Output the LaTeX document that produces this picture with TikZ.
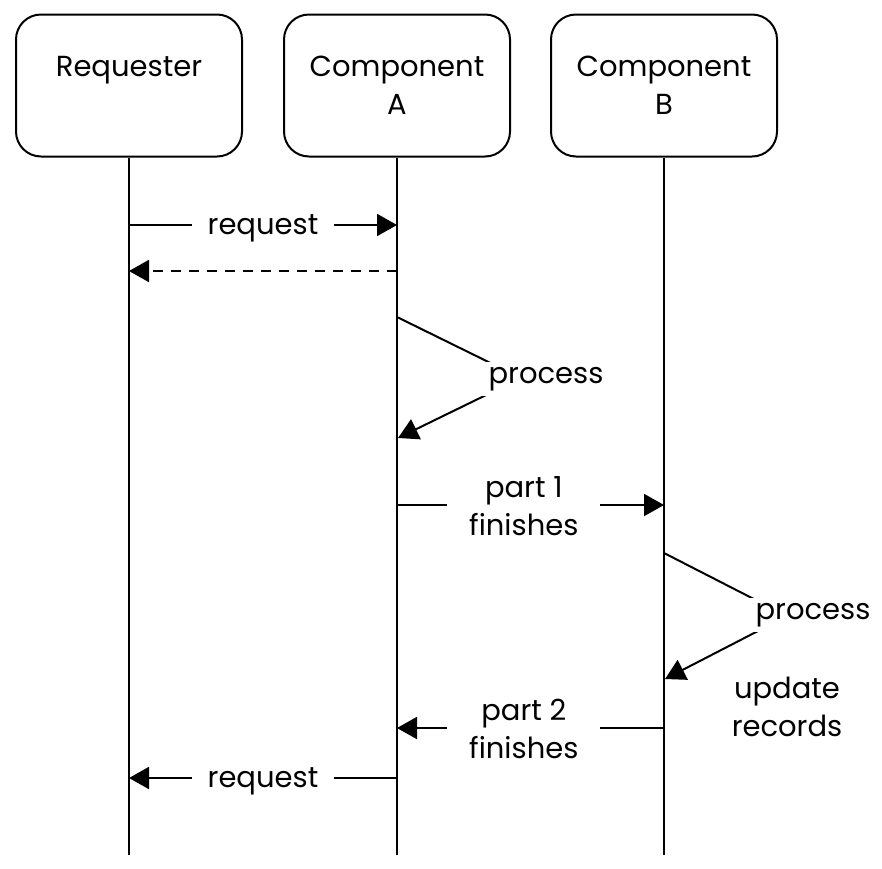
\documentclass[tikz,border=0pt]{standalone}
\usepackage{fontspec}
\setmainfont{Poppins}
\usetikzlibrary{arrows.meta}
\begin{document}
\begin{tikzpicture}[x=1pt,y=-1pt,
  every node/.style={font=\fontsize{29}{38}\selectfont},
  box/.style={draw,line width=2pt,rounded corners=25pt,minimum width=226pt,minimum height=142pt,align=center,inner sep=0pt},
  life/.style={line width=2pt},
  msg/.style={line width=2pt,-{Triangle[length=20pt,width=22pt]}},
  dmsg/.style={msg,dash pattern=on 10pt off 8pt},
  lab/.style={fill=white,inner xsep=16pt,inner ysep=4pt,align=center,yshift=-3pt},
  lab2/.style={fill=white,inner xsep=22pt,inner ysep=4pt,align=center,yshift=-1pt},
  plab/.style={fill=white,inner xsep=9pt,inner ysep=5pt}]
\useasboundingbox (0,0) rectangle (882,868);
% participants
\node[box] (R) at (129,85.5) {Requester\\\phantom{A}};
\node[box] (A) at (397,85.5) {Component\\A};
\node[box] (B) at (664,85.5) {Component\\B};
\coordinate (Rend) at (129,855);
\coordinate (Aend) at (397,855);
\coordinate (Bend) at (664,855);
\draw[life] (R.south) -- (Rend);
\draw[life] (A.south) -- (Aend);
\draw[life] (B.south) -- (Bend);
% message 1
\coordinate (r1) at (129,225);
\coordinate (a1) at (397,225);
\draw[msg] (r1) -- node[lab] (m1) {request} (a1);
% reply
\coordinate (a2) at (397,271);
\coordinate (r2) at (129,271);
\draw[dmsg] (a2) -- (r2);
% self process on A
\coordinate (a3) at (397,317);
\coordinate (v1) at (521,378);
\coordinate (a4) at (398,438);
\draw[life] (a3) -- (v1);
\draw[msg] (v1) -- (a4);
\node[plab] (p1) at (546,379) {process};
% part 1 finishes
\coordinate (a5) at (397,505);
\coordinate (b5) at (664,505);
\draw[msg] (a5) -- node[lab2,pos=0.475] (m3) {part 1\\finishes} (b5);
% self process on B
\coordinate (b6) at (664,553);
\coordinate (v2) at (787,616);
\coordinate (b7) at (665,679);
\draw[life] (b6) -- (v2);
\draw[msg] (v2) -- (b7);
\node[plab] (p2) at (813,615) {process};
\node[align=center] (u) at (787,707) {update\\records};
% part 2 finishes
\coordinate (b8) at (664,728);
\coordinate (a8) at (397,728);
\draw[msg] (b8) -- node[lab2,pos=0.525] (m4) {part 2\\finishes} (a8);
% request back
\coordinate (a9) at (397,778);
\coordinate (r9) at (129,778);
\draw[msg] (a9) -- node[lab] (m5) {request} (r9);
\end{tikzpicture}
\end{document}
